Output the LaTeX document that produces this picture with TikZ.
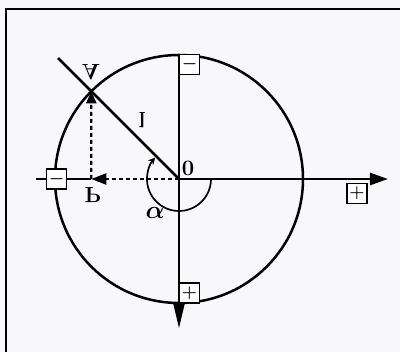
\documentclass[tikz,border=0pt]{standalone}
\usepackage{fontspec}
\usepackage{graphicx}
\usetikzlibrary{arrows.meta}
\definecolor{bg}{RGB}{248,248,250}
\begin{document}
\begin{tikzpicture}[x=1pt,y=1pt,
  signbox/.style={draw, line width=1.1pt, fill=white, minimum width=20pt, minimum height=20pt, inner sep=0pt, font=\fontsize{17}{17}\selectfont\boldmath},
  lbl/.style={font=\fontsize{22}{22}\selectfont\bfseries, inner sep=0pt},
  thinaxis/.style={line width=1.4pt},
  dashline/.style={line width=2.3pt, dash pattern=on 4pt off 3pt},
]
\useasboundingbox (-179,-173) rectangle (221,179);
\fill[bg] (-179,-173) rectangle (221,179);
\draw[line width=1.6pt] (-173,-175) -- (-173,170) -- (223,170);
\coordinate (O) at (0,0);
\coordinate (A) at (135:124);
\coordinate (P) at (-87.7,0);
\coordinate (L) at (135:171);
\coordinate (Xl) at (-143,0);
\coordinate (Xr) at (209,0);
\coordinate (Yt) at (0,124);
\coordinate (Yb) at (0,-149);
\coordinate (Ar) at (32,0);
% circle
\draw[line width=2.5pt] (O) circle[radius=124];
% axes
\draw[thinaxis] (Xl) -- (P);
\draw[line width=2.6pt, -{Triangle[length=18pt,width=12pt]}] (O) -- (Xr);
\draw[thinaxis, -{Triangle[length=24pt,width=11pt]}] (Yt) -- (Yb);
% projections
\draw[dashline, -{Triangle[length=15pt,width=11pt]}] (O) -- (P);
\draw[dashline, -{Triangle[length=12pt,width=10pt]}] (P) -- (A);
% radius line
\draw[line width=2.7pt] (O) -- (L);
% angle arc
\draw[line width=1.7pt, -{Stealth[length=7pt,width=7pt]}] (Ar) arc[start angle=0, end angle=-222, radius=32];
% sign boxes
\node[signbox] (mT) at (10.5,114.5) {$-$};
\node[signbox] (pB) at (10.5,-114) {$+$};
\node[signbox] (mL) at (-122.5,0) {$-$};
\node[signbox] (pR) at (178,-14.5) {$+$};
% labels
\node[lbl] (lA) at (-88,107) {\scalebox{1}[-1]{A}};
\node[lbl] (ll) at (-37,59) {\scalebox{1}[-1]{l}};
\node[lbl] (l0) at (9,11) {0};
\node[lbl] (lP) at (-86,-16) {\scalebox{1}[-1]{P}};
\node[lbl, font=\fontsize{24}{24}\selectfont\boldmath] (la) at (-24,-34) {$\alpha$};
\end{tikzpicture}
\end{document}
